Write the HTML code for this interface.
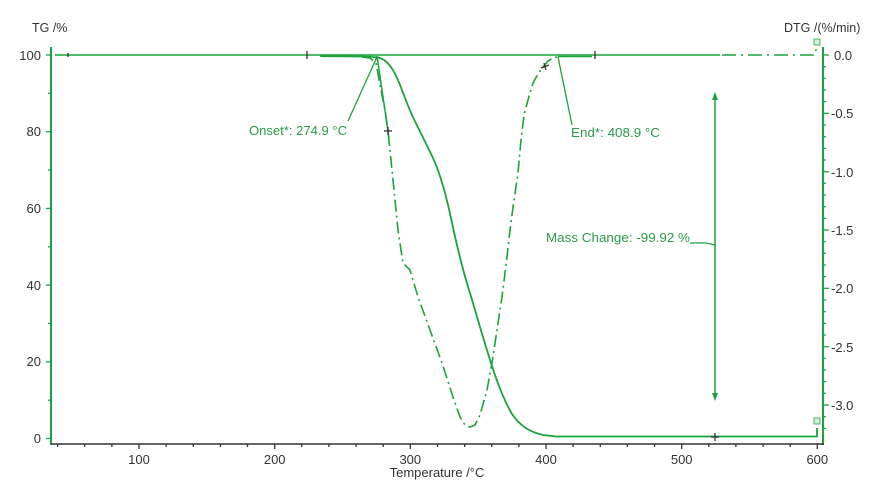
<!DOCTYPE html>
<html><head><meta charset="utf-8"><style>
html,body{margin:0;padding:0;background:#fff;}
svg{display:block;}
text{font-family:"Liberation Sans",Arial,sans-serif;}
</style></head><body>
<svg width="882" height="500" viewBox="0 0 882 500" xmlns="http://www.w3.org/2000/svg">
<rect width="882" height="500" fill="#fff"/>
<!-- axis titles -->
<text x="32" y="32" font-size="12.5" fill="#333">TG /%</text>
<text x="784" y="32" font-size="12.5" fill="#333">DTG /(%/min)</text>
<text x="437" y="477" font-size="13" fill="#333" text-anchor="middle">Temperature /°C</text>

<!-- left axis -->
<line x1="51" y1="47" x2="51" y2="445" stroke="#1aa33a" stroke-width="2"/>
<g stroke="#1aa33a" stroke-width="1.3">
<line x1="46" y1="438.5" x2="51" y2="438.5"/><line x1="48" y1="400.2" x2="51" y2="400.2"/>
<line x1="46" y1="361.8" x2="51" y2="361.8"/><line x1="48" y1="323.5" x2="51" y2="323.5"/>
<line x1="46" y1="285.1" x2="51" y2="285.1"/><line x1="48" y1="246.8" x2="51" y2="246.8"/>
<line x1="46" y1="208.4" x2="51" y2="208.4"/><line x1="48" y1="170.1" x2="51" y2="170.1"/>
<line x1="46" y1="131.7" x2="51" y2="131.7"/><line x1="48" y1="93.4" x2="51" y2="93.4"/>
<line x1="46" y1="55" x2="51" y2="55"/>
</g>
<g font-size="13" fill="#333" text-anchor="end">
<text x="41" y="443">0</text><text x="41" y="366">20</text><text x="41" y="290">40</text>
<text x="41" y="213">60</text><text x="41" y="136">80</text><text x="41" y="60">100</text>
</g>

<!-- right axis -->
<line x1="823" y1="47" x2="823" y2="445" stroke="#1aa33a" stroke-width="2"/>
<g stroke="#1aa33a" stroke-width="1.3">
<line x1="823" y1="55" x2="829" y2="55"/><line x1="823" y1="66.7" x2="826" y2="66.7"/><line x1="823" y1="78.3" x2="826" y2="78.3"/><line x1="823" y1="90" x2="826" y2="90"/><line x1="823" y1="101.7" x2="826" y2="101.7"/>
<line x1="823" y1="113.3" x2="829" y2="113.3"/><line x1="823" y1="125" x2="826" y2="125"/><line x1="823" y1="136.7" x2="826" y2="136.7"/><line x1="823" y1="148.3" x2="826" y2="148.3"/><line x1="823" y1="160" x2="826" y2="160"/>
<line x1="823" y1="171.7" x2="829" y2="171.7"/><line x1="823" y1="183.3" x2="826" y2="183.3"/><line x1="823" y1="195" x2="826" y2="195"/><line x1="823" y1="206.7" x2="826" y2="206.7"/><line x1="823" y1="218.3" x2="826" y2="218.3"/>
<line x1="823" y1="230" x2="829" y2="230"/><line x1="823" y1="241.7" x2="826" y2="241.7"/><line x1="823" y1="253.3" x2="826" y2="253.3"/><line x1="823" y1="265" x2="826" y2="265"/><line x1="823" y1="276.7" x2="826" y2="276.7"/>
<line x1="823" y1="288.3" x2="829" y2="288.3"/><line x1="823" y1="300" x2="826" y2="300"/><line x1="823" y1="311.7" x2="826" y2="311.7"/><line x1="823" y1="323.3" x2="826" y2="323.3"/><line x1="823" y1="335" x2="826" y2="335"/>
<line x1="823" y1="346.7" x2="829" y2="346.7"/><line x1="823" y1="358.3" x2="826" y2="358.3"/><line x1="823" y1="370" x2="826" y2="370"/><line x1="823" y1="381.7" x2="826" y2="381.7"/><line x1="823" y1="393.3" x2="826" y2="393.3"/>
<line x1="823" y1="405" x2="829" y2="405"/><line x1="823" y1="416.7" x2="826" y2="416.7"/><line x1="823" y1="428.3" x2="826" y2="428.3"/>
</g>
<g font-size="13" fill="#333">
<text x="834" y="60">0.0</text><text x="831" y="118">-0.5</text><text x="831" y="177">-1.0</text>
<text x="831" y="235">-1.5</text><text x="831" y="293">-2.0</text><text x="831" y="352">-2.5</text><text x="831" y="410">-3.0</text>
</g>

<!-- bottom axis -->
<line x1="51" y1="444" x2="824" y2="444" stroke="#333" stroke-width="1.5"/>
<g stroke="#333" stroke-width="1.3">
<line x1="57.6" y1="444" x2="57.6" y2="447"/><line x1="84.7" y1="444" x2="84.7" y2="447"/><line x1="111.9" y1="444" x2="111.9" y2="447"/>
<line x1="139" y1="444" x2="139" y2="449"/><line x1="166.1" y1="444" x2="166.1" y2="447"/><line x1="193.3" y1="444" x2="193.3" y2="447"/>
<line x1="220.4" y1="444" x2="220.4" y2="447"/><line x1="247.5" y1="444" x2="247.5" y2="447"/><line x1="274.7" y1="444" x2="274.7" y2="449"/>
<line x1="301.8" y1="444" x2="301.8" y2="447"/><line x1="328.9" y1="444" x2="328.9" y2="447"/><line x1="356.1" y1="444" x2="356.1" y2="447"/>
<line x1="383.2" y1="444" x2="383.2" y2="447"/><line x1="410.3" y1="444" x2="410.3" y2="449"/><line x1="437.5" y1="444" x2="437.5" y2="447"/>
<line x1="464.6" y1="444" x2="464.6" y2="447"/><line x1="491.7" y1="444" x2="491.7" y2="447"/><line x1="518.9" y1="444" x2="518.9" y2="447"/>
<line x1="546" y1="444" x2="546" y2="449"/><line x1="573.1" y1="444" x2="573.1" y2="447"/><line x1="600.3" y1="444" x2="600.3" y2="447"/>
<line x1="627.4" y1="444" x2="627.4" y2="447"/><line x1="654.5" y1="444" x2="654.5" y2="447"/><line x1="681.7" y1="444" x2="681.7" y2="449"/>
<line x1="708.8" y1="444" x2="708.8" y2="447"/><line x1="735.9" y1="444" x2="735.9" y2="447"/><line x1="763.1" y1="444" x2="763.1" y2="447"/>
<line x1="790.2" y1="444" x2="790.2" y2="447"/><line x1="817.3" y1="444" x2="817.3" y2="449"/>
</g>
<g font-size="13" fill="#333" text-anchor="middle">
<text x="139" y="464">100</text><text x="274.7" y="464">200</text><text x="410.3" y="464">300</text>
<text x="546" y="464">400</text><text x="681.7" y="464">500</text><text x="817.3" y="464">600</text>
</g>

<!-- baseline solid -->
<line x1="55" y1="55" x2="720" y2="55" stroke="#1aa33a" stroke-width="1.6"/>
<path d="M722,55 L815,55 L817,45" fill="none" stroke="#1aa33a" stroke-width="1.5" stroke-dasharray="14,5,2,5"/>
<rect x="814" y="39" width="6" height="6" fill="#d8f0d8" stroke="#1aa33a" stroke-width="0.8"/>

<!-- TG curve -->
<path d="M320,56 L360,56.5 L372,57 C377,57 380,57.5 384,60 C390,64 394,71 398,80 C403,92 407,104 412,115 C418,128 425,141 432,156 C440,172 446,195 451,218 C456,242 462,268 470,293 C478,320 485,345 492,366 C498,385 504,400 512,414 C520,426 530,432 543,435 L556,436.5 L817,436.5 L817,428" fill="none" stroke="#1aa33a" stroke-width="1.8"/>
<rect x="814" y="418" width="6" height="6" fill="#d8f0d8" stroke="#1aa33a" stroke-width="0.8"/>

<!-- DTG curve -->
<path d="M362,57 L370,58 L376,63 L380,85 L385,110 L388,131 L391,160 L395,200 L398,230 L401,250 L403,263 L410,270 L418,297 L430,330 L442,363 L453,397 L460,417 L465,425 L470,427 L475,425 L480,415 L487,390 L492,363 L497,330 L502,297 L507,257 L510,230 L513,207 L518,173 L521,140 L524,115 L528,100 L533,83 L538,74 L543,67 L548,61 L553,58 L560,56" fill="none" stroke="#1aa33a" stroke-width="1.6" stroke-dasharray="12,4,2,4"/>

<!-- onset tangent -->
<line x1="377" y1="56" x2="389" y2="138" stroke="#1aa33a" stroke-width="1.5"/>
<line x1="348" y1="121" x2="377" y2="57" stroke="#1aa33a" stroke-width="1.3"/>
<line x1="558" y1="57" x2="572" y2="125" stroke="#1aa33a" stroke-width="1.3"/>
<line x1="558" y1="56.5" x2="592" y2="56.5" stroke="#1aa33a" stroke-width="1.5"/>
<line x1="322" y1="56.5" x2="372" y2="56.5" stroke="#1aa33a" stroke-width="1.2"/>

<!-- markers -->
<g stroke="#333" stroke-width="1.3">
<line x1="307" y1="51" x2="307" y2="59"/>
<line x1="595" y1="51" x2="595" y2="59"/>
<line x1="68" y1="53" x2="68" y2="57"/>
<line x1="384" y1="131" x2="392" y2="131"/><line x1="388" y1="127" x2="388" y2="135"/>
<line x1="541" y1="68" x2="549" y2="65"/><line x1="544" y1="63" x2="546" y2="70"/>
<line x1="711" y1="437" x2="719" y2="437"/><line x1="715" y1="433" x2="715" y2="441"/>
</g>

<!-- mass change arrow -->
<line x1="715" y1="97" x2="715" y2="396" stroke="#1aa33a" stroke-width="1.5"/>
<path d="M715,92 L712,100 L718,100 Z" fill="#1aa33a"/>
<path d="M715,401 L712,393 L718,393 Z" fill="#1aa33a"/>
<path d="M690,243 L706,243 L715,245" fill="none" stroke="#1aa33a" stroke-width="1.2"/>

<!-- labels -->
<g font-size="13" fill="#2a9a48">
<text x="249" y="135" textLength="98" lengthAdjust="spacingAndGlyphs">Onset*: 274.9 °C</text>
<text x="571" y="137" textLength="89" lengthAdjust="spacingAndGlyphs">End*: 408.9 °C</text>
<text x="546" y="242" textLength="144" lengthAdjust="spacingAndGlyphs">Mass Change: -99.92 %</text>
</g>
</svg>
</body></html>
